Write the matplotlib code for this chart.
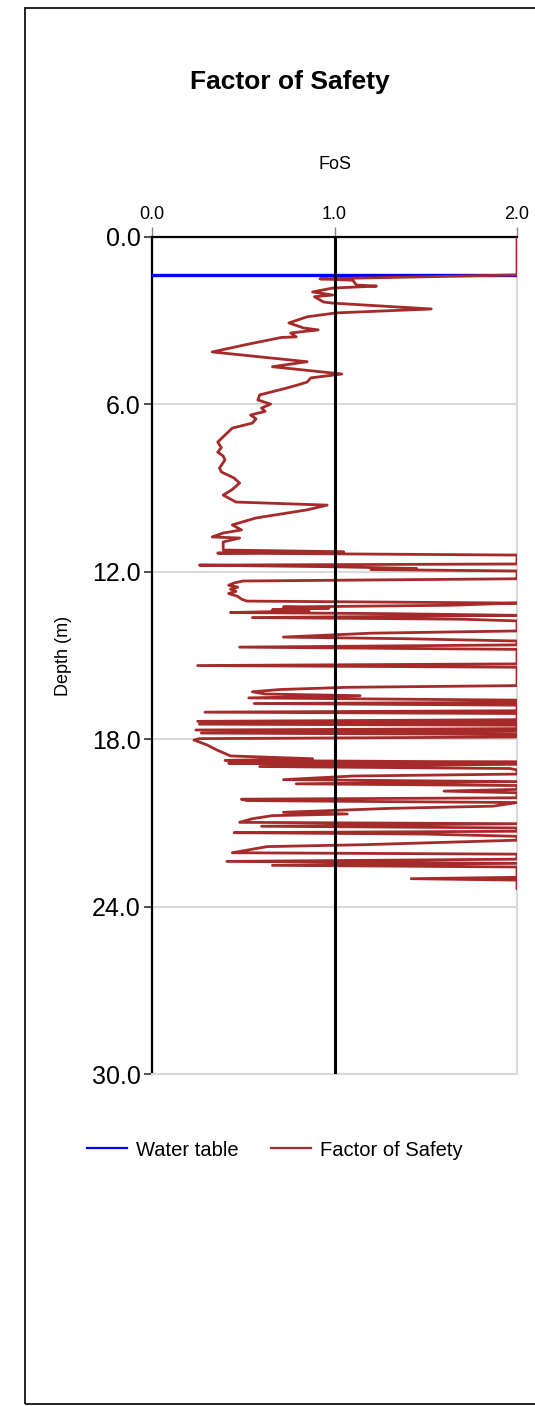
import numpy as np
import matplotlib.pyplot as plt
from matplotlib.patches import Rectangle

plt.rcParams['font.family'] = ['Liberation Sans', 'DejaVu Sans']

# Datos: profundidad (m) y factor de seguridad
water_table = 1.36

depth = [0.0, 1.36, 1.50, 1.55, 1.72, 1.76, 1.83, 1.97, 2.08, 2.14, 2.33, 2.37,
         2.58, 2.72, 2.86, 3.08, 3.26, 3.33, 3.44, 3.58, 3.60, 3.85, 4.12, 4.34,
         4.47, 4.65, 4.91, 5.05, 5.20, 5.30, 5.41, 5.66, 5.84, 5.99, 6.13, 6.25,
         6.38, 6.52, 6.67, 6.85, 7.10, 7.35, 7.55, 7.71, 7.85, 7.99, 8.28, 8.42,
         8.64, 8.82, 9.05, 9.25, 9.50, 9.61, 9.78, 10.07, 10.32, 10.50, 10.61,
         10.75, 10.79, 10.93, 11.22,
         11.28, 11.33, 11.40, 11.72, 11.76, 11.82, 11.88, 11.92, 11.97, 12.25,
         12.33, 12.40, 12.48, 12.55, 12.62, 12.70, 12.78, 12.88, 12.98, 13.05,
         13.12, 13.20, 13.26, 13.30, 13.36, 13.40, 13.46, 13.50, 13.56, 13.64,
         13.70, 13.76, 14.12, 14.20, 14.28, 14.34, 14.40, 14.48, 14.62, 14.70,
         14.78, 15.30, 15.36, 15.42, 16.08, 16.14, 16.22, 16.30, 16.38, 16.44,
         16.52, 16.60, 16.68, 16.72, 16.78, 16.98, 17.03, 17.08, 17.30, 17.36,
         17.40, 17.46, 17.50, 17.62, 17.67, 17.72, 17.78, 17.83, 17.92, 17.98,
         18.03, 18.20, 18.40, 18.60, 18.70, 18.76, 18.82, 18.86, 18.90, 18.98,
         19.05, 19.10, 19.25, 19.32, 19.45, 19.52, 19.60, 19.66, 19.80, 19.86,
         19.92, 20.10, 20.15, 20.20, 20.27, 20.40, 20.48, 20.62, 20.68, 20.74,
         20.85, 20.98, 21.03, 21.12, 21.18, 21.30, 21.35, 21.40, 21.48, 21.62,
         21.78, 21.85, 22.00, 22.07, 22.12, 22.30, 22.38, 22.45, 22.52, 22.58,
         22.95, 23.00, 23.05, 23.35]

fos = [2.0, 2.0, 0.92, 1.10, 1.12, 1.23, 0.99, 0.88, 0.99, 0.89, 0.94, 0.99,
       1.53, 1.01, 0.85, 0.75, 0.83, 0.91, 0.76, 0.79, 0.71, 0.52, 0.33, 0.66,
       0.85, 0.66, 1.04, 0.87, 0.85, 0.80, 0.74, 0.59, 0.58, 0.65, 0.60, 0.62,
       0.54, 0.57, 0.55, 0.44, 0.40, 0.36, 0.38, 0.36, 0.39, 0.40, 0.37, 0.38,
       0.45, 0.48, 0.44, 0.39, 0.46, 0.96, 0.85, 0.57, 0.44, 0.49, 0.39,
       0.33, 0.48, 0.39, 0.39,
       1.05, 0.36, 2.0, 2.0, 0.26, 1.00, 1.45, 1.20, 2.0, 2.0,
       0.50, 0.45, 0.42, 0.47, 0.43, 0.46, 0.42, 0.47, 0.49, 0.52,
       2.0, 1.63, 0.72, 0.97, 0.66, 0.86, 0.43, 1.30, 2.0, 0.55,
       1.70, 2.0, 2.0, 1.20, 0.92, 0.72, 1.40, 2.0, 2.0, 0.48,
       2.0, 2.0, 0.25, 2.0, 2.0, 1.07, 0.70, 0.55, 0.62, 1.14,
       0.53, 2.0, 2.0, 0.56, 2.0, 2.0, 0.29, 2.0, 2.0, 0.25,
       2.0, 0.26, 2.0, 2.0, 0.24, 2.0, 0.27, 2.0, 2.0, 0.26,
       0.23, 0.30, 0.36, 0.43, 0.88, 0.40, 2.0, 0.42, 2.0, 0.59,
       1.96, 2.0, 2.0, 1.10, 0.72, 2.0, 0.79, 2.0, 2.0, 1.60,
       2.0, 2.0, 0.49, 0.52, 2.0, 1.87, 1.30, 0.72, 1.07, 0.66,
       0.55, 0.48, 2.0, 0.60, 2.0, 2.0, 0.45, 1.49, 2.0, 2.0,
       1.17, 0.63, 0.50, 0.44, 2.0, 2.0, 0.41, 2.0, 0.66, 2.0,
       2.0, 1.42, 2.0, 2.0]

x_ticks = [0.0, 1.0, 2.0]
y_ticks = [0.0, 6.0, 12.0, 18.0, 24.0, 30.0]

fig = plt.figure(figsize=(5.35, 14.06), dpi=100)
ax = fig.add_axes([152/535, 1 - 1074/1406, 365/535, 837/1406])

# Marco exterior
fig.patches.append(Rectangle((25/535, 2/1406), 1.2, 1396/1406, transform=fig.transFigure,
                             fill=False, edgecolor='#222222', linewidth=1.4))

# Graficar
ax.axhline(water_table, color='blue', linewidth=2.4, zorder=3, label='Water table')
ax.plot(fos, depth, color='#a52a2a', linewidth=2.0, zorder=4, label='Factor of Safety')
ax.axvline(1.0, color='black', linewidth=2.2, zorder=5)

# Configuracion de ejes
ax.set_xlim(0, 2)
ax.set_ylim(30, 0)
ax.set_xticks(x_ticks)
ax.set_yticks(y_ticks)
ax.set_xticklabels(['%.1f' % v for v in x_ticks], fontsize=13)
ax.set_yticklabels(['%.1f' % v for v in y_ticks], fontsize=18)
ax.xaxis.tick_top()
ax.xaxis.set_label_position('top')
ax.tick_params(axis='x', length=7, width=1, color='#888888', pad=3)
ax.tick_params(axis='y', length=6, width=1.2, color='#333333', pad=2)
ax.set_xlabel('FoS', fontsize=13, labelpad=27)
ax.set_ylabel('Depth (m)', fontsize=13)
ax.yaxis.set_label_coords(-0.22, 0.5)
ax.grid(axis='y', color='#d9d9d9', linewidth=1.5, zorder=0)

for s in ['top', 'left']:
    ax.spines[s].set_linewidth(1.6)
    ax.spines[s].set_color('black')
for s in ['right', 'bottom']:
    ax.spines[s].set_linewidth(1.5)
    ax.spines[s].set_color('#d9d9d9')

fig.text(290/535, 1 - 82/1406, 'Factor of Safety', fontsize=19, fontweight='bold',
         ha='center', va='center')

leg = fig.legend(loc='center', bbox_to_anchor=(275/535, 1 - 1150/1406), ncol=2, frameon=False,
                 fontsize=14.5, handlelength=2.0, columnspacing=1.6, handletextpad=0.45)
for ln in leg.get_lines():
    ln.set_linewidth(1.6)

plt.savefig('out.png', dpi=100)
